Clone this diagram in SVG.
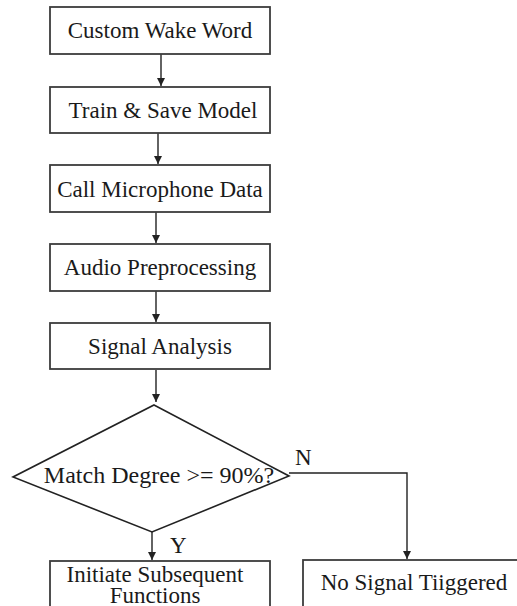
<svg xmlns="http://www.w3.org/2000/svg" width="517" height="606" viewBox="0 0 517 606">
  <defs>
    <marker id="arrow" viewBox="0 0 8 10" refX="8" refY="5" markerWidth="8" markerHeight="10" markerUnits="userSpaceOnUse" orient="auto">
      <path d="M0,1 L8,5 L0,9 Z" fill="#222"/>
    </marker>
    <style>
      .box { fill: #fff; stroke: #3c3c3c; stroke-width: 1.8; }
      .label { font-family: "Liberation Serif", "Times New Roman", serif; font-size: 23px; fill: #1a1a1a; text-anchor: middle; }
      .tag { font-family: "Liberation Serif", "Times New Roman", serif; font-size: 23px; fill: #1a1a1a; }
      .edge { fill: none; stroke: #222; stroke-width: 1.4; marker-end: url(#arrow); }
    </style>
  </defs>
  <rect width="517" height="606" fill="#fff"/>

  <g id="connectors">
    <line class="edge" x1="161" y1="54" x2="161" y2="86"/>
    <line class="edge" x1="158" y1="133" x2="158" y2="164"/>
    <line class="edge" x1="156" y1="212" x2="156" y2="243"/>
    <line class="edge" x1="156" y1="291" x2="156" y2="322"/>
    <line class="edge" x1="156" y1="370" x2="156" y2="402"/>
    <line class="edge" x1="152" y1="532" x2="152" y2="560"/>
    <polyline class="edge" points="289,473 407,473 407,559"/>
    <text class="tag" x="295" y="465">N</text>
    <text class="tag" x="170" y="553">Y</text>
  </g>

  <g id="custom-wake-word">
    <rect class="box" x="50" y="7" width="220" height="47"/>
    <text class="label" x="160" y="38">Custom Wake Word</text>
  </g>

  <g id="train-save-model">
    <rect class="box" x="50" y="87" width="220" height="46"/>
    <text class="label" x="163" y="118">Train &amp; Save Model</text>
  </g>

  <g id="call-microphone-data">
    <rect class="box" x="50" y="165" width="220" height="47"/>
    <text class="label" x="160" y="197">Call Microphone Data</text>
  </g>

  <g id="audio-preprocessing">
    <rect class="box" x="50" y="244" width="220" height="47"/>
    <text class="label" x="160" y="275">Audio Preprocessing</text>
  </g>

  <g id="signal-analysis">
    <rect class="box" x="50" y="323" width="220" height="46"/>
    <text class="label" x="160" y="354">Signal Analysis</text>
  </g>

  <g id="match-degree">
    <polygon points="154,405 289,476 152,532 13,477" fill="#fff" stroke="#222" stroke-width="1.6"/>
    <text class="label" x="159" y="483" style="font-size:24px">Match Degree &gt;= 90%?</text>
  </g>

  <g id="initiate-subsequent">
    <rect class="box" x="50" y="561" width="220" height="60"/>
    <text class="label" x="155" y="582">Initiate Subsequent</text>
    <text class="label" x="155" y="603">Functions</text>
  </g>

  <g id="no-signal">
    <rect class="box" x="303" y="560" width="230" height="60"/>
    <text class="label" x="414" y="590">No Signal Tiiggered</text>
  </g>
</svg>
